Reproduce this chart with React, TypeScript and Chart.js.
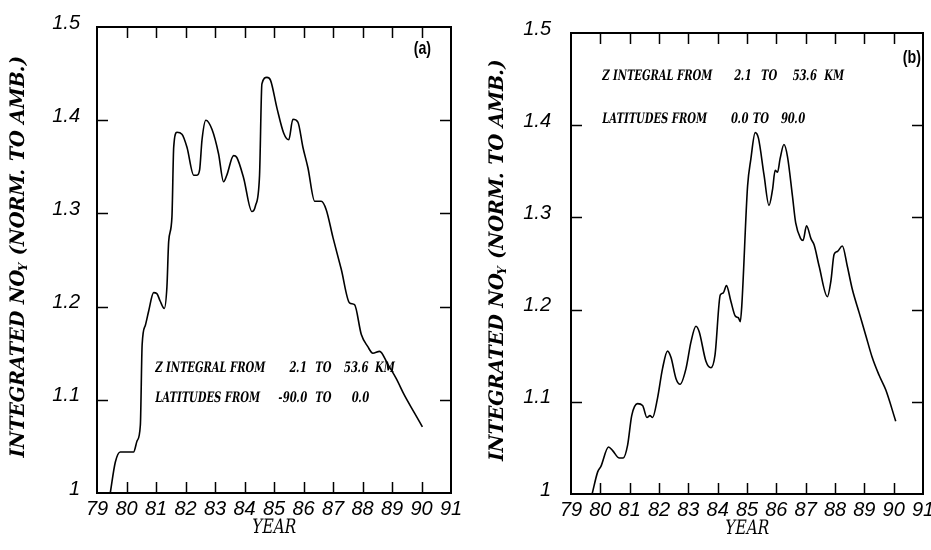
import React, { useEffect, useRef } from 'react';
import { Chart, registerables } from 'chart.js';

Chart.register(...registerables);

// ---------- DATA ----------
// Panel (a): latitudes -90 to 0
const yearsA = [79.45, 79.62, 79.79, 80.24, 80.36, 80.47, 80.53, 80.64, 80.75, 80.92, 81.03, 81.14, 81.28, 81.37, 81.43, 81.54, 81.60, 81.71, 81.88, 82.05, 82.28, 82.39, 82.48, 82.56, 82.69, 82.90, 83.12, 83.29, 83.40, 83.63, 83.74, 83.97, 84.25, 84.37, 84.51, 84.59, 84.76, 84.88, 85.10, 85.33, 85.50, 85.64, 85.81, 85.98, 86.15, 86.38, 86.60, 86.77, 87.00, 87.28, 87.56, 87.73, 87.96, 88.18, 88.35, 88.58, 88.86, 89.14, 89.42, 89.76, 90.03];
const noyA = [1.000, 1.033, 1.044, 1.044, 1.056, 1.073, 1.159, 1.180, 1.195, 1.215, 1.214, 1.206, 1.198, 1.221, 1.270, 1.296, 1.371, 1.387, 1.385, 1.371, 1.341, 1.341, 1.347, 1.379, 1.400, 1.390, 1.364, 1.334, 1.341, 1.362, 1.360, 1.338, 1.302, 1.308, 1.341, 1.439, 1.446, 1.443, 1.413, 1.386, 1.379, 1.401, 1.398, 1.371, 1.349, 1.313, 1.313, 1.304, 1.274, 1.240, 1.204, 1.202, 1.170, 1.157, 1.150, 1.152, 1.138, 1.123, 1.105, 1.086, 1.071];

// Panel (b): latitudes 0 to 90
const yearsB = [79.72, 79.91, 80.02, 80.28, 80.42, 80.65, 80.78, 80.93, 81.07, 81.27, 81.44, 81.59, 81.69, 81.78, 81.95, 82.12, 82.29, 82.41, 82.58, 82.72, 82.92, 83.09, 83.26, 83.37, 83.60, 83.77, 83.91, 84.09, 84.19, 84.30, 84.45, 84.60, 84.71, 84.77, 84.82, 85.02, 85.13, 85.28, 85.39, 85.58, 85.75, 85.87, 85.96, 86.04, 86.13, 86.26, 86.38, 86.55, 86.66, 86.83, 86.91, 87.03, 87.18, 87.29, 87.46, 87.74, 87.86, 87.97, 88.08, 88.25, 88.42, 88.59, 88.82, 89.05, 89.27, 89.50, 89.73, 90.07];
const noyB = [1.000, 1.024, 1.030, 1.051, 1.047, 1.039, 1.039, 1.053, 1.085, 1.098, 1.096, 1.083, 1.085, 1.083, 1.104, 1.136, 1.155, 1.148, 1.125, 1.119, 1.136, 1.165, 1.182, 1.176, 1.144, 1.137, 1.151, 1.216, 1.218, 1.226, 1.209, 1.193, 1.191, 1.187, 1.203, 1.334, 1.363, 1.392, 1.386, 1.346, 1.313, 1.330, 1.351, 1.349, 1.364, 1.379, 1.366, 1.323, 1.294, 1.277, 1.275, 1.291, 1.277, 1.270, 1.247, 1.214, 1.231, 1.260, 1.263, 1.269, 1.247, 1.222, 1.197, 1.172, 1.148, 1.129, 1.113, 1.079];

const xRange = [79, 91];
const yRange = [1, 1.5];
const xStep = 1;
const yStep = 0.1;

const xTitle = 'YEAR';
const yTitleParts = ['INTEGRATED NO', 'Y', ' (NORM. TO AMB.)'];

// annotation lines: [text, x(year), y(value)]
const notesA: [string, number, number][] = [
  ['Z INTEGRAL FROM', 80.97, 1.1334], ['2.1', 85.52, 1.1334], ['TO', 86.39, 1.1334], ['53.6', 87.37, 1.1334], ['KM', 88.42, 1.1334],
  ['LATITUDES FROM', 80.97, 1.1016], ['-90.0', 85.15, 1.1016], ['TO', 86.39, 1.1016], ['0.0', 87.63, 1.1016],
];
const notesB: [string, number, number][] = [
  ['Z INTEGRAL FROM', 80.06, 1.4536], ['2.1', 84.56, 1.4536], ['TO', 85.47, 1.4536], ['53.6', 86.55, 1.4536], ['KM', 87.63, 1.4536],
  ['LATITUDES FROM', 80.06, 1.4062], ['0.0', 84.45, 1.4062], ['TO', 85.19, 1.4062], ['90.0', 86.15, 1.4062],
];
const panelLabelA: [string, number, number] = ['(a)', 90.03, 1.477];
const panelLabelB: [string, number, number] = ['(b)', 90.62, 1.4734];

// ---------- STYLE ----------
const SERIF = '"DejaVu Serif", "Liberation Serif", serif';
const SANS = '"Liberation Sans", Arial, sans-serif';
const SKEW = -0.22;

type PanelSpec = {
  years: number[];
  values: number[];
  notes: [string, number, number][];
  label: [string, number, number];
  left: number;
  width: number;
  yAxisWidth: number;
  padRight: number;
  padTop: number;
  xAxisHeight: number;
  yTickPad: number;
  yTitleX: number;
};

function makeFramePlugin(spec: PanelSpec) {
  return {
    id: 'frame',
    afterDraw(chart: any) {
      const { ctx, chartArea } = chart;
      const { left, right, top, bottom } = chartArea;
      const xs = chart.scales.x;
      const ys = chart.scales.y;
      ctx.save();
      ctx.strokeStyle = '#000';
      ctx.lineWidth = 2;
      ctx.strokeRect(left, top, right - left, bottom - top);
      ctx.lineWidth = 1.5;
      ctx.beginPath();
      const len = 11;
      xs.ticks.forEach((t: any) => {
        const px = Math.round(xs.getPixelForValue(t.value)) + 0.5;
        if (px > left + 2 && px < right - 2) {
          ctx.moveTo(px, top);
          ctx.lineTo(px, top + len);
          ctx.moveTo(px, bottom);
          ctx.lineTo(px, bottom - len);
        }
      });
      ys.ticks.forEach((t: any) => {
        const py = Math.round(ys.getPixelForValue(t.value)) + 0.5;
        if (py > top + 2 && py < bottom - 2) {
          ctx.moveTo(left, py);
          ctx.lineTo(left + len, py);
          ctx.moveTo(right, py);
          ctx.lineTo(right - len, py);
        }
      });
      ctx.stroke();

      ctx.fillStyle = '#000';
      // annotations
      const noteFont = `bold 14.5px ${SERIF}`;
      ctx.font = noteFont;
      const noteScale = 110 / ctx.measureText('Z INTEGRAL FROM').width;
      spec.notes.forEach(([txt, xv, yv]) => {
        const px = xs.getPixelForValue(xv);
        const py = ys.getPixelForValue(yv);
        ctx.save();
        ctx.font = noteFont;
        ctx.textAlign = 'left';
        ctx.textBaseline = 'middle';
        ctx.translate(px, py);
        ctx.scale(noteScale, 1);
        ctx.transform(1, 0, SKEW, 1, 0, 0);
        ctx.fillText(txt, 0, 0);
        ctx.restore();
      });

      // panel label
      {
        const [txt, xv, yv] = spec.label;
        ctx.save();
        ctx.font = `bold 19px ${SANS}`;
        ctx.textAlign = 'center';
        ctx.textBaseline = 'middle';
        ctx.translate(xs.getPixelForValue(xv), ys.getPixelForValue(yv));
        ctx.scale(0.75, 1);
        ctx.fillText(txt, 0, 0);
        ctx.restore();
      }

      // x title
      {
        ctx.save();
        ctx.font = `20px ${SERIF}`;
        ctx.textAlign = 'center';
        ctx.textBaseline = 'middle';
        const w = ctx.measureText(xTitle).width;
        ctx.translate((left + right) / 2, bottom + 35);
        ctx.scale(44 / w, 1);
        ctx.transform(1, 0, SKEW, 1, 0, 0);
        ctx.fillText(xTitle, 0, 0);
        ctx.restore();
      }

      // y title with subscript
      {
        const mainFont = `bold 20px ${SERIF}`;
        const subFont = `bold 12px ${SERIF}`;
        ctx.save();
        ctx.font = mainFont;
        const w1 = ctx.measureText(yTitleParts[0]).width;
        const w3 = ctx.measureText(yTitleParts[2]).width;
        ctx.font = subFont;
        const w2 = ctx.measureText(yTitleParts[1]).width;
        const total = w1 + w2 + w3;
        const s = 402 / total;
        ctx.translate(spec.yTitleX, (top + bottom) / 2 - 3);
        ctx.rotate(-Math.PI / 2);
        ctx.scale(s, 1);
        ctx.transform(1, 0, SKEW, 1, 0, 0);
        ctx.textAlign = 'left';
        ctx.textBaseline = 'middle';
        let x0 = -total / 2;
        ctx.font = mainFont;
        ctx.fillText(yTitleParts[0], x0, 0);
        x0 += w1;
        ctx.font = subFont;
        ctx.fillText(yTitleParts[1], x0, 5);
        x0 += w2;
        ctx.font = mainFont;
        ctx.fillText(yTitleParts[2], x0, 0);
        ctx.restore();
      }
      ctx.restore();
    },
  };
}

function Panel({ spec }: { spec: PanelSpec }) {
  const ref = useRef<HTMLCanvasElement | null>(null);
  useEffect(() => {
    if (!ref.current) return;
    const tickFont = { family: SANS, size: 20, style: 'italic' as const };
    const chart = new Chart(ref.current, {
      type: 'line',
      data: {
        datasets: [
          {
            data: spec.years.map((x, i) => ({ x, y: spec.values[i] })),
            borderColor: '#000',
            borderWidth: 1.6,
            pointRadius: 0,
            cubicInterpolationMode: 'monotone',
            fill: false,
          },
        ],
      },
      options: {
        animation: false,
        responsive: false,
        maintainAspectRatio: false,
        layout: { padding: { left: 0, right: spec.padRight, top: spec.padTop, bottom: 0 } },
        plugins: { legend: { display: false }, tooltip: { enabled: false } },
        scales: {
          x: {
            type: 'linear',
            min: xRange[0],
            max: xRange[1],
            ticks: {
              stepSize: xStep,
              padding: 4,
              color: '#000',
              font: tickFont,
              maxRotation: 0,
              autoSkip: false,
              callback: (v: any) => String(Math.round(Number(v))),
            },
            grid: { display: false, drawTicks: false },
            border: { display: false },
            afterFit: (s: any) => {
              s.height = spec.xAxisHeight;
              s.paddingLeft = 0;
              s.paddingRight = 0;
            },
          },
          y: {
            type: 'linear',
            min: yRange[0],
            max: yRange[1],
            ticks: {
              stepSize: yStep,
              padding: spec.yTickPad,
              labelOffset: -4,
              color: '#000',
              font: tickFont,
              autoSkip: false,
              callback: (v: any) => {
                const n = Number(v);
                return Math.abs(n - 1) < 1e-9 ? '1' : n.toFixed(1);
              },
            },
            grid: { display: false, drawTicks: false },
            border: { display: false },
            afterFit: (s: any) => {
              s.width = spec.yAxisWidth;
              s.paddingTop = 0;
              s.paddingBottom = 0;
            },
          },
        },
      } as any,
      plugins: [makeFramePlugin(spec)],
    });
    return () => chart.destroy();
  }, [spec]);
  return (
    <canvas
      ref={ref}
      width={spec.width}
      height={550}
      style={{ position: 'absolute', left: spec.left, top: 0, width: spec.width, height: 550 }}
    />
  );
}

const specA: PanelSpec = {
  years: yearsA,
  values: noyA,
  notes: notesA,
  label: panelLabelA,
  left: 0,
  width: 465,
  yAxisWidth: 97,
  padRight: 14,
  padTop: 27,
  xAxisHeight: 57,
  yTickPad: 17,
  yTitleX: 19,
};

const specB: PanelSpec = {
  years: yearsB,
  values: noyB,
  notes: notesB,
  label: panelLabelB,
  left: 466,
  width: 465,
  yAxisWidth: 105,
  padRight: 8,
  padTop: 33,
  xAxisHeight: 56,
  yTickPad: 20,
  yTitleX: 32,
};

export default function App() {
  return (
    <div style={{ position: 'absolute', left: 0, top: 0, width: 931, height: 550, background: '#fff', overflow: 'hidden' }}>
      <Panel spec={specA} />
      <Panel spec={specB} />
    </div>
  );
}
